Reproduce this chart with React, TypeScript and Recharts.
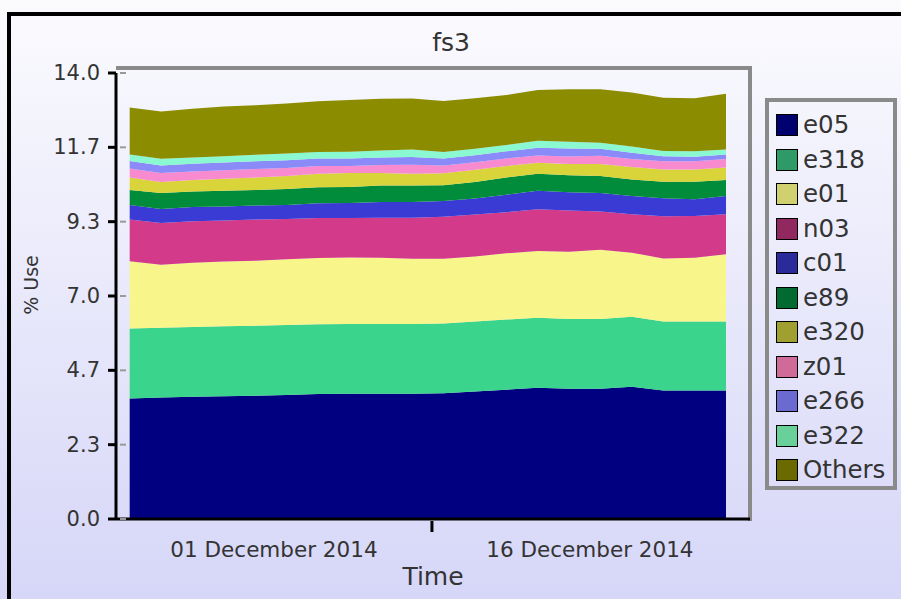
import { AreaChart, Area, XAxis, YAxis } from "recharts";

// days counted from 1 November 2014
const days = [23.15, 24.64, 26.13, 27.62, 29.11, 30.6, 32.09, 33.58, 35.07, 36.56, 38.05, 39.54, 41.03, 42.52, 44.01, 45.5, 46.99, 48.48, 49.97, 51.46];

const e05 = [3.78, 3.81, 3.84, 3.85, 3.87, 3.89, 3.92, 3.93, 3.93, 3.93, 3.95, 4.0, 4.06, 4.12, 4.09, 4.09, 4.15, 4.03, 4.03, 4.03];
const e318 = [2.2, 2.19, 2.19, 2.2, 2.2, 2.2, 2.19, 2.19, 2.19, 2.19, 2.19, 2.2, 2.2, 2.2, 2.19, 2.19, 2.2, 2.17, 2.17, 2.17];
const e01 = [2.11, 1.98, 2.01, 2.03, 2.04, 2.06, 2.08, 2.09, 2.08, 2.05, 2.03, 2.04, 2.08, 2.09, 2.11, 2.17, 2.01, 1.98, 2.0, 2.11];
const n03 = [1.31, 1.31, 1.31, 1.29, 1.29, 1.27, 1.26, 1.24, 1.26, 1.29, 1.32, 1.32, 1.29, 1.31, 1.29, 1.2, 1.21, 1.32, 1.31, 1.26];
const c01 = [0.46, 0.44, 0.44, 0.44, 0.44, 0.44, 0.46, 0.47, 0.49, 0.49, 0.49, 0.5, 0.55, 0.58, 0.58, 0.58, 0.57, 0.57, 0.53, 0.57];
const e89 = [0.47, 0.5, 0.49, 0.49, 0.49, 0.5, 0.5, 0.5, 0.52, 0.52, 0.5, 0.52, 0.54, 0.54, 0.53, 0.54, 0.52, 0.52, 0.55, 0.5];
const e320 = [0.39, 0.35, 0.36, 0.38, 0.39, 0.41, 0.43, 0.44, 0.39, 0.37, 0.37, 0.38, 0.36, 0.34, 0.35, 0.37, 0.39, 0.38, 0.38, 0.39];
const z01 = [0.28, 0.28, 0.27, 0.27, 0.27, 0.25, 0.24, 0.22, 0.25, 0.28, 0.25, 0.24, 0.24, 0.23, 0.24, 0.26, 0.25, 0.26, 0.26, 0.27];
const e266 = [0.24, 0.24, 0.24, 0.24, 0.24, 0.24, 0.24, 0.24, 0.24, 0.24, 0.22, 0.22, 0.22, 0.24, 0.25, 0.22, 0.2, 0.16, 0.14, 0.14];
const e322 = [0.2, 0.21, 0.2, 0.2, 0.2, 0.21, 0.2, 0.21, 0.22, 0.24, 0.2, 0.2, 0.2, 0.22, 0.21, 0.19, 0.19, 0.16, 0.17, 0.16];
const others = [1.48, 1.48, 1.53, 1.56, 1.56, 1.57, 1.59, 1.62, 1.62, 1.6, 1.6, 1.59, 1.57, 1.6, 1.65, 1.68, 1.7, 1.67, 1.67, 1.75];

const seriesNames = ["e05", "e318", "e01", "n03", "c01", "e89", "e320", "z01", "e266", "e322", "Others"];
const seriesValues = [e05, e318, e01, n03, c01, e89, e320, z01, e266, e322, others];
const fillColors = ["#000080", "#3ad48c", "#f8f68a", "#d43a8a", "#3a3ad4", "#008c3a", "#d8d43a", "#f88ad0", "#8a8af8", "#8af8d0", "#8c8c00"];
const legendColors = ["#00006e", "#2e9a68", "#d0d070", "#922860", "#2a2a9a", "#006a30", "#a0a030", "#d06a98", "#6a6ad0", "#6ad09a", "#6a6a00"];

const yTicks = [0, 2.3333, 4.6667, 7, 9.3333, 11.6667, 14];
const xTicks = [30, 37.5, 45];
const labelledDays = [30, 45];
const months = ["January", "February", "March", "April", "May", "June", "July", "August", "September", "October", "November", "December"];

const data = days.map((d, i) => {
  const row: Record<string, number> = { day: d };
  seriesNames.forEach((n, k) => (row[n] = seriesValues[k][i]));
  return row;
});

const FONT = "'DejaVu Sans', sans-serif";
const TEXT = "#333";
const Y_TICK = 8;
const Y_MARGIN = 8;

function fmtDay(d: number) {
  const dt = new Date(2014, 10, 1 + d);
  return `${String(dt.getDate()).padStart(2, "0")} ${months[dt.getMonth()]} ${dt.getFullYear()}`;
}

function YTick(props: any) {
  const { x, y, payload } = props;
  const ax = x + Y_TICK + Y_MARGIN;
  return (
    <g>
      <text x={x} y={y} dy={7} textAnchor="end" fontSize={21} fill={TEXT}>
        {payload.value.toFixed(1)}
      </text>
      <line x1={ax + 4} x2={ax + 10} y1={y} y2={y} stroke="#999" strokeWidth={2} />
    </g>
  );
}

function XTick(props: any) {
  const { x, y, payload } = props;
  const axisY = y - 12;
  if (!labelledDays.includes(payload.value)) {
    return <line x1={x} x2={x} y1={axisY + 2} y2={axisY + 13} stroke="#000" strokeWidth={3} />;
  }
  return (
    <text x={x} y={y} dy={26} textAnchor="middle" fontSize={21.5} fill={TEXT}>
      {fmtDay(payload.value)}
    </text>
  );
}

export default function App() {
  return (
    <div
      style={{
        position: "absolute",
        left: 0,
        top: 0,
        width: 901,
        height: 599,
        overflow: "hidden",
        background: "linear-gradient(to bottom, #fbfbfe 0%, #d6d6f8 100%)",
        fontFamily: FONT,
      }}
    >
      <div style={{ position: "absolute", left: 7, top: 12, width: 1000, height: 1000, border: "4px solid #000" }} />
      <div
        style={{
          position: "absolute",
          left: 0,
          top: 28,
          width: 902,
          textAlign: "center",
          fontSize: 25,
          lineHeight: "30px",
          color: TEXT,
        }}
      >
        fs3
      </div>
      {/* plot frame (top and right edges) */}
      <div
        style={{
          position: "absolute",
          left: 116,
          top: 66,
          width: 636,
          height: 455,
          boxSizing: "border-box",
          borderTop: "4px solid #8a8a8a",
          borderRight: "4px solid #8a8a8a",
        }}
      />
      <div style={{ position: "absolute", left: 0, top: 0 }}>
        <AreaChart width={901} height={599} data={data} margin={{ top: 73, right: 151, bottom: 0, left: 0 }}>
          <XAxis
            dataKey="day"
            type="number"
            domain={[22.5, 52.6]}
            ticks={xTicks}
            interval={0}
            height={80}
            tickLine={false}
            tickSize={8}
            tickMargin={4}
            axisLine={{ stroke: "#000", strokeWidth: 3 }}
            tick={<XTick />}
            label={{ value: "Time", position: "insideBottom", offset: 14, fontSize: 25, fill: TEXT }}
          />
          <YAxis
            width={116}
            domain={[0, 14]}
            ticks={yTicks}
            interval={0}
            tickSize={Y_TICK}
            tickMargin={Y_MARGIN}
            tickLine={{ stroke: "#000", strokeWidth: 3 }}
            axisLine={{ stroke: "#000", strokeWidth: 3 }}
            tick={<YTick />}
            label={{
              content: () => (
                <text transform="translate(31,285) rotate(-90)" textAnchor="middle" dominantBaseline="central" fontSize={19} fill={TEXT}>
                  % Use
                </text>
              ),
            }}
          />
          <YAxis
            yAxisId="right"
            orientation="right"
            mirror
            width={0}
            domain={[0, 14]}
            ticks={yTicks.slice(1, -1)}
            interval={0}
            tick={false}
            axisLine={false}
            tickSize={20}
            tickLine={{ stroke: "#888", strokeWidth: 3, strokeDasharray: "8 5 4 100" }}
          />
          {seriesNames.map((n, k) => (
            <Area
              key={n}
              type="linear"
              dataKey={n}
              stackId="1"
              stroke="none"
              fill={fillColors[k]}
              fillOpacity={1}
              isAnimationActive={false}
              dot={false}
              activeDot={false}
            />
          ))}
        </AreaChart>
      </div>
      <div
        style={{
          position: "absolute",
          left: 765,
          top: 98,
          width: 132,
          height: 392,
          boxSizing: "border-box",
          border: "4px solid #8a8a8a",
          paddingTop: 6,
          paddingLeft: 7,
        }}
      >
        {seriesNames.map((n, k) => (
          <div key={n} style={{ display: "flex", alignItems: "center", height: 34.5 }}>
            <div
              style={{
                width: 22,
                height: 22,
                flexShrink: 0,
                boxSizing: "border-box",
                border: "1.5px solid #000",
                background: legendColors[k],
                marginRight: 5,
              }}
            />
            <span style={{ fontSize: 24.5, color: TEXT, lineHeight: "26px", whiteSpace: "nowrap" }}>{n}</span>
          </div>
        ))}
      </div>
    </div>
  );
}
